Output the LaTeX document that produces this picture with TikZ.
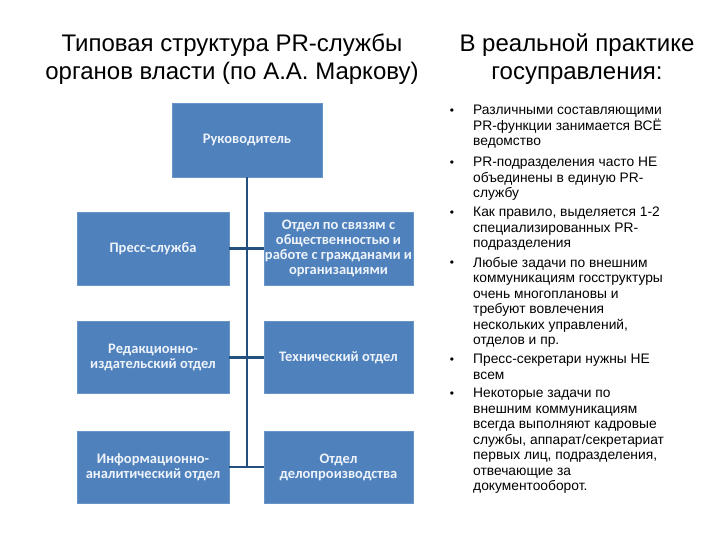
\documentclass[tikz,border=0pt]{standalone}
\usepackage{fontspec}
\setmainfont{Liberation Sans}
\newfontfamily\boxfont{Carlito}
\definecolor{boxblue}{HTML}{4F81BD}
\definecolor{linecol}{HTML}{24507F}
\definecolor{boxtext}{HTML}{EEF3FA}
\begin{document}
\begin{tikzpicture}[x=1pt,y=-1pt,
  orgbox/.style={rectangle, fill=boxblue, draw=boxblue!85!white, line width=0.4pt, text=boxtext,
    font=\boxfont\bfseries\fontsize{14.5}{15}\selectfont, align=center, inner sep=0pt},
  link/.style={draw=linecol, line width=2.6pt},
  title/.style={font=\fontsize{24}{28}\selectfont, align=center, text=black},
  bul/.style={font=\fontsize{13.8}{15.5}\selectfont, align=left, anchor=north west, inner sep=0pt, text=black}
]
\useasboundingbox (0,0) rectangle (720,540);
% titles
\node[title] (t1) at (232,59) {Типовая структура PR-службы\\органов власти (по А.А. Маркову)};
\node[title] (t2) at (577,59) {В реальной практике\\госуправления:};
% boxes
\node[orgbox, minimum width=150pt, minimum height=74pt] (head) at (247,140) {Руководитель};
\node[orgbox, minimum width=152pt, minimum height=73pt] (l1) at (153,248.5) {Пресс-служба};
\node[orgbox, minimum width=149pt, minimum height=73pt] (r1) at (338.5,248.5) {Отдел по связям с\\общественностью и\\работе с гражданами и\\организациями};
\node[orgbox, minimum width=152pt, minimum height=72pt] (l2) at (153,357.5) {Редакционно-\\издательский отдел};
\node[orgbox, minimum width=149pt, minimum height=72pt] (r2) at (338.5,357.5) {Технический отдел};
\node[orgbox, minimum width=152pt, minimum height=72pt] (l3) at (153,467) {Информационно-\\аналитический отдел};
\node[orgbox, minimum width=149pt, minimum height=72pt] (r3) at (338.5,467) {Отдел\\делопроизводства};
% connectors
\coordinate (bottom) at (247,467);
\draw[link] (head.south) -- (bottom);
\draw[link] (l1.east) -- (r1.west);
\draw[link] (l2.east) -- (r2.west);
\draw[link] (l3.east) -- (r3.west);
% bullets
\node[bul] (b1) at (473,105) {Различными составляющими\\PR-функции занимается ВСЁ\\ведомство};
\node[bul] (b2) at (473,157) {PR-подразделения часто НЕ\\объединены в единую PR-\\службу};
\node[bul] (b3) at (473,207) {Как правило, выделяется 1-2\\специализированных PR-\\подразделения};
\node[bul] (b4) at (473,257) {Любые задачи по внешним\\коммуникациям госструктуры\\очень многоплановы и\\требуют вовлечения\\нескольких управлений,\\отделов и пр.};
\node[bul] (b5) at (473,354) {Пресс-секретари нужны НЕ\\всем};
\node[bul] (b6) at (473,388) {Некоторые задачи по\\внешним коммуникациям\\всегда выполняют кадровые\\службы, аппарат/секретариат\\первых лиц, подразделения,\\отвечающие за\\документооборот.};
\foreach \n/\y in {1/112,2/164,3/214,4/264,5/361,6/395}
  \node[font=\fontsize{12}{14}\selectfont, inner sep=0pt] (d\n) at (452,\y) {•};
\end{tikzpicture}
\end{document}
